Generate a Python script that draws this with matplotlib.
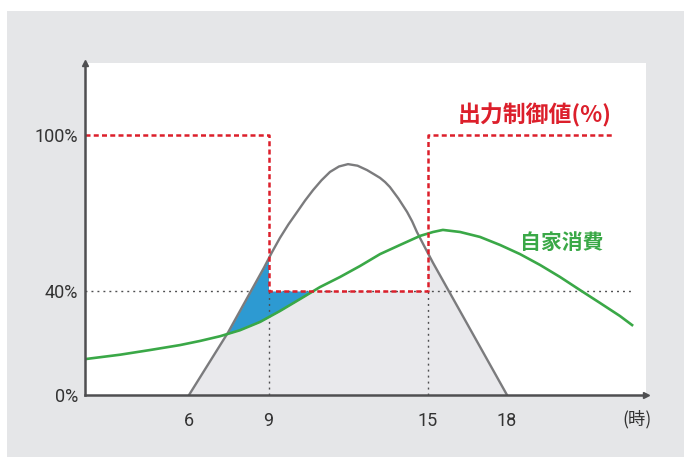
import matplotlib
matplotlib.use("Agg")
import matplotlib.pyplot as plt
from matplotlib.patches import Rectangle
import numpy as np

# solar generation over the day (hour, % of rated output)
gen_hours = [6.0, 7.47, 8.83, 9.13, 9.43, 9.75, 10.08, 10.38, 10.68, 11.0,
             11.32, 11.66, 12.0, 12.36, 12.72, 13.0, 13.21, 13.4, 13.58,
             13.9, 14.23, 14.42, 14.60, 14.9, 15.21, 18.0]
gen_pct = [0, 24.0, 49.0, 54.9, 60.4, 65.6, 70.4, 74.8, 78.8, 82.6,
           85.8, 87.9, 88.8, 88.2, 86.5, 84.8, 83.5, 81.9, 80.0,
           75.6, 70.4, 66.8, 62.7, 56.8, 50.8, 0]

# household self-consumption
use_hours = [2.075, 3.40, 4.53, 5.66, 6.42, 7.17, 7.92, 8.68, 9.43, 10.19,
             10.94, 11.70, 12.45, 13.21, 13.96, 14.72, 15.21, 15.58, 16.23,
             16.98, 17.74, 18.49, 19.25, 20.0, 20.75, 21.51, 22.26, 22.72]
use_pct = [13.8, 15.5, 17.3, 19.2, 20.8, 22.6, 24.9, 28.1, 32.3, 36.9,
           41.5, 45.4, 49.6, 54.2, 57.7, 61.2, 62.7, 63.5, 62.7,
           60.8, 57.7, 54.2, 50.0, 45.4, 40.4, 35.4, 30.4, 26.9]

# output control schedule
limit_start, limit_end = 9, 15
limit_pct = 40
full_pct = 100
control_end = 22.0
guide_end = 22.72

x_ticks = [6, 9, 15, 18]
y_ticks = [0, 40, 100]
y_labels = ["0%", "40%", "100%"]

x_min, x_max = 2.075, 23.245
y_min, y_max = 0, 127.7

RED = "#dc1f2b"
GREEN = "#3aa847"
GEN_GRAY = "#7b7b7d"
FILL_GRAY = "#e9e9ec"
BLUE = "#2d9ad2"
AXIS = "#4f4f51"
TEXT = "#333333"
BG = "#e5e6e8"
CJK = ["Noto Sans CJK JP", "DejaVu Sans"]

fig = plt.figure(figsize=(6.84, 4.57), dpi=100)
fig.patch.set_facecolor("white")
fig.add_artist(Rectangle((7 / 684, 0), 1 - 7 / 684, 1 - 11 / 457,
                         transform=fig.transFigure, facecolor=BG,
                         edgecolor="none", zorder=0))

ax = fig.add_axes([85 / 684, 1 - 395 / 457, 561 / 684, 332 / 457])
ax.set_facecolor("white")
ax.set_xlim(x_min, x_max)
ax.set_ylim(y_min, y_max)

# shaded areas: generation allowed under the cap, surplus above consumption
xf = np.linspace(gen_hours[0], gen_hours[-1], 2401)
gen_f = np.interp(xf, gen_hours, gen_pct)
use_f = np.interp(xf, use_hours, use_pct)
cap = np.where((xf >= limit_start) & (xf <= limit_end), limit_pct, full_pct)
allowed = np.minimum(gen_f, cap)
ax.fill_between(xf, 0, allowed, color=FILL_GRAY, lw=0, zorder=1)
ax.fill_between(xf, use_f, allowed, where=allowed > use_f, interpolate=True,
                color=BLUE, lw=0, zorder=2)

# dotted guides
dot = (0, (1.4, 2.9))
ax.plot([x_min, guide_end], [limit_pct, limit_pct], color=AXIS, lw=1.0,
        ls=dot, zorder=1.5)
for h in (limit_start, limit_end):
    ax.plot([h, h], [0, limit_pct], color=AXIS, lw=1.0, ls=dot, zorder=2.5)

ax.plot(gen_hours, gen_pct, color=GEN_GRAY, lw=1.7, zorder=3,
        solid_joinstyle="round")
ax.plot(use_hours, use_pct, color=GREEN, lw=1.9, zorder=4,
        solid_joinstyle="round")

ctrl_x = [x_min, limit_start, limit_start, limit_end, limit_end, control_end]
ctrl_y = [full_pct, full_pct, limit_pct, limit_pct, full_pct, full_pct]
ax.plot(ctrl_x, ctrl_y, color=RED, lw=1.8, ls=(0, (2.0, 1.3)), zorder=5)

ax.text(19.06, 107.7, "出力制御値(%)", color=RED, fontsize=16.5,
        fontweight="bold", family=CJK, ha="center", va="center", zorder=6)
ax.text(20.08, 58.8, "自家消費", color=GREEN, fontsize=15,
        fontweight="bold", family=CJK, ha="center", va="center", zorder=6)
ax.text(0.984, -0.072, "(時)", color=TEXT, fontsize=12.5, family=CJK,
        ha="center", va="center", transform=ax.transAxes)

# axes with arrow heads
for side in ("top", "right"):
    ax.spines[side].set_visible(False)
for side in ("left", "bottom"):
    ax.spines[side].set_color(AXIS)
    ax.spines[side].set_linewidth(1.8)
    ax.spines[side].set_zorder(7)
ax.plot(1, 0, marker=">", ms=5, color=AXIS, transform=ax.transAxes,
        clip_on=False, zorder=8)
ax.plot(0, 1, marker="^", ms=5, color=AXIS, transform=ax.transAxes,
        clip_on=False, zorder=8)

ax.set_xticks(x_ticks)
ax.set_xticklabels([str(t) for t in x_ticks])
ax.set_yticks(y_ticks)
ax.set_yticklabels(y_labels)
ax.tick_params(axis="both", length=0, labelsize=13, labelcolor=TEXT)
ax.tick_params(axis="x", pad=12)
ax.tick_params(axis="y", pad=5)
for lbl in ax.get_xticklabels() + ax.get_yticklabels():
    lbl.set_family("Roboto")

fig.savefig("out.png", dpi=100)
